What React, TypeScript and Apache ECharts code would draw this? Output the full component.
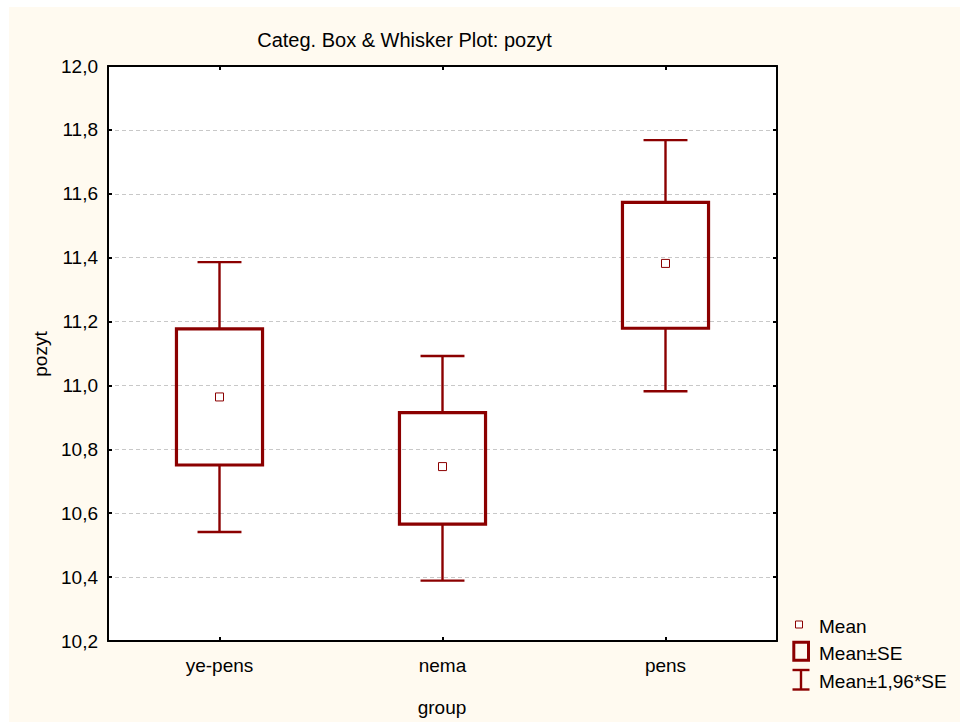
import React, { useEffect, useRef } from "react";
import * as echarts from "echarts";

// Groups on the category axis
const categories = ["ye-pens", "nema", "pens"];
// Group means of "pozyt"
const meanValues = [10.964, 10.746, 11.382];
// Mean ± SE (box edges)
const seLow = [10.751, 10.566, 11.179];
const seHigh = [11.177, 10.915, 11.573];
// Mean ± 1,96*SE (whisker ends)
const ciLow = [10.541, 10.389, 10.982];
const ciHigh = [11.386, 11.092, 11.768];

const FONT = "'Liberation Sans', Arial, sans-serif";
const RED = "#8b0000";
const BG = "#fffaf0";
const FS = 19;

const axisLine = { show: true, lineStyle: { color: "#000", width: 2 } };
const axisTick = { show: true, inside: true, length: 4, lineStyle: { color: "#000", width: 2 } };

export default function App() {
  const ref = useRef<HTMLDivElement>(null);

  useEffect(() => {
    if (!ref.current) return;
    const chart = echarts.init(ref.current, null, { renderer: "svg" });

    const data = categories.map((_, i) => [i, ciLow[i], seLow[i], meanValues[i], seHigh[i], ciHigh[i]]);

    chart.setOption({
      animation: false,
      backgroundColor: BG,
      textStyle: { fontFamily: FONT },
      grid: {
        left: 99,
        top: 59,
        width: 669,
        height: 575,
        show: true,
        backgroundColor: "#fff",
        borderWidth: 0,
      },
      xAxis: [
        {
          type: "category",
          data: categories,
          position: "bottom",
          boundaryGap: true,
          axisLine,
          axisTick: { ...axisTick, alignWithLabel: true },
          axisLabel: { color: "#000", fontSize: FS, fontFamily: FONT, margin: 15 },
          splitLine: { show: false },
        },
        {
          type: "category",
          data: categories,
          position: "top",
          boundaryGap: true,
          axisLine,
          axisTick: { ...axisTick, alignWithLabel: true },
          axisLabel: { show: false },
          splitLine: { show: false },
        },
      ],
      yAxis: [
        {
          type: "value",
          min: 10.2,
          max: 12.0,
          interval: 0.2,
          position: "left",
          axisLine,
          axisTick,
          axisLabel: {
            color: "#000",
            fontSize: FS,
            fontFamily: FONT,
            margin: 10,
            formatter: (v: number) => v.toFixed(1).replace(".", ","),
          },
          splitLine: { show: true, lineStyle: { color: "#c8c8c8", type: [4, 3], width: 1 } },
        },
        {
          type: "value",
          min: 10.2,
          max: 12.0,
          interval: 0.2,
          position: "right",
          axisLine,
          axisTick,
          axisLabel: { show: false },
          splitLine: { show: false },
        },
      ],
      series: [
        {
          type: "custom",
          xAxisIndex: 0,
          yAxisIndex: 0,
          data,
          encode: { x: 0, y: [1, 2, 3, 4, 5] },
          renderItem: (params: any, api: any) => {
            const idx = api.value(0);
            const band = api.size([1, 0])[0];
            const boxW = band * 0.386;
            const capW = band * 0.197;
            const x = api.coord([idx, api.value(3)])[0];
            const yCiLow = api.coord([idx, api.value(1)])[1];
            const ySeLow = api.coord([idx, api.value(2)])[1];
            const yMean = api.coord([idx, api.value(3)])[1];
            const ySeHigh = api.coord([idx, api.value(4)])[1];
            const yCiHigh = api.coord([idx, api.value(5)])[1];
            const ws = { stroke: RED, lineWidth: 2.4 };
            return {
              type: "group",
              children: [
                { type: "line", shape: { x1: x, y1: yCiHigh, x2: x, y2: ySeHigh }, style: ws },
                { type: "line", shape: { x1: x, y1: ySeLow, x2: x, y2: yCiLow }, style: ws },
                { type: "line", shape: { x1: x - capW / 2, y1: yCiHigh, x2: x + capW / 2, y2: yCiHigh }, style: ws },
                { type: "line", shape: { x1: x - capW / 2, y1: yCiLow, x2: x + capW / 2, y2: yCiLow }, style: ws },
                {
                  type: "rect",
                  shape: { x: x - boxW / 2, y: ySeHigh, width: boxW, height: ySeLow - ySeHigh },
                  style: { fill: "none", stroke: RED, lineWidth: 3.2 },
                },
                {
                  type: "rect",
                  shape: { x: x - 4, y: yMean - 4, width: 8, height: 8 },
                  style: { fill: "#fff", stroke: RED, lineWidth: 1 },
                },
              ],
            };
          },
        },
      ],
      graphic: [
        {
          type: "text",
          x: 395.5,
          y: 33,
          style: {
            text: "Categ. Box & Whisker Plot: pozyt",
            fontSize: 20,
            fontFamily: FONT,
            fill: "#000",
            textAlign: "center",
            textVerticalAlign: "middle",
          },
        },
        {
          type: "text",
          x: 433,
          y: 700,
          style: {
            text: "group",
            fontSize: FS,
            fontFamily: FONT,
            fill: "#000",
            textAlign: "center",
            textVerticalAlign: "middle",
          },
        },
        {
          type: "text",
          x: 31,
          y: 347,
          rotation: Math.PI / 2,
          style: {
            text: "pozyt",
            fontSize: FS,
            fontFamily: FONT,
            fill: "#000",
            textAlign: "center",
            textVerticalAlign: "middle",
          },
        },
        // legend: Mean
        {
          type: "rect",
          shape: { x: 786.5, y: 614, width: 7, height: 7 },
          style: { fill: "#fff", stroke: RED, lineWidth: 1 },
        },
        {
          type: "text",
          x: 810,
          y: 619.5,
          style: { text: "Mean", fontSize: FS, fontFamily: FONT, fill: "#000", textVerticalAlign: "middle" },
        },
        // legend: Mean±SE
        {
          type: "rect",
          shape: { x: 784.8, y: 635.2, width: 14.7, height: 18 },
          style: { fill: "none", stroke: RED, lineWidth: 3 },
        },
        {
          type: "text",
          x: 810,
          y: 646,
          style: { text: "Mean±SE", fontSize: FS, fontFamily: FONT, fill: "#000", textVerticalAlign: "middle" },
        },
        // legend: Mean±1,96*SE
        {
          type: "line",
          shape: { x1: 783.5, y1: 663, x2: 800.5, y2: 663 },
          style: { stroke: RED, lineWidth: 2.4 },
        },
        {
          type: "line",
          shape: { x1: 792, y1: 663, x2: 792, y2: 682.5 },
          style: { stroke: RED, lineWidth: 2.4 },
        },
        {
          type: "line",
          shape: { x1: 783.5, y1: 682.5, x2: 800.5, y2: 682.5 },
          style: { stroke: RED, lineWidth: 2.4 },
        },
        {
          type: "text",
          x: 810,
          y: 674,
          style: { text: "Mean±1,96*SE", fontSize: FS, fontFamily: FONT, fill: "#000", textVerticalAlign: "middle" },
        },
      ],
    });

    return () => chart.dispose();
  }, []);

  return (
    <div
      ref={ref}
      style={{ position: "absolute", left: 9, top: 7, width: 951, height: 715, background: BG }}
    />
  );
}
